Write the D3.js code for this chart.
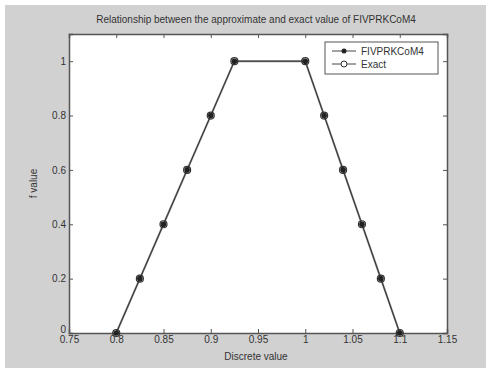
<!DOCTYPE html>
<html><head><meta charset="utf-8">
<script src="https://cdn.jsdelivr.net/npm/d3@7"></script>
<style>
html,body{margin:0;padding:0;background:#fff;}
svg{display:block;}
text{font-family:"Liberation Sans",Arial,sans-serif;fill:#333;}
</style></head>
<body>
<script>
const xValues = [0.8, 0.825, 0.85, 0.875, 0.9, 0.925, 1.0, 1.02, 1.04, 1.06, 1.08, 1.1];
const approxValues = [0, 0.2, 0.4, 0.6, 0.8, 1, 1, 0.8, 0.6, 0.4, 0.2, 0];
const exactValues = [0, 0.2, 0.4, 0.6, 0.8, 1, 1, 0.8, 0.6, 0.4, 0.2, 0];
const xTicks = [0.75, 0.8, 0.85, 0.9, 0.95, 1, 1.05, 1.1, 1.15];
const yTicks = [0, 0.2, 0.4, 0.6, 0.8, 1];
const seriesNames = ["FIVPRKCoM4", "Exact"];
const titleText = "Relationship between the approximate and exact value of FIVPRKCoM4";
const xLabel = "Discrete value";
const yLabel = "f value";

const W = 486, H = 368;
const svg = d3.select("body").append("svg").attr("width", W).attr("height", H);
svg.append("rect").attr("x", 5).attr("y", 5).attr("width", W - 5).attr("height", H - 5).attr("fill", "#d1d1d1");

const L = 69, R = 447, T = 34, B = 333;
const x = d3.scaleLinear().domain([0.75, 1.15]).range([L, R]);
const y = d3.scaleLinear().domain([0, 1.1]).range([B, T]);

svg.append("rect").attr("x", L).attr("y", T).attr("width", R - L).attr("height", B - T).attr("fill", "#fff");

const fmt = d => String(+d.toFixed(2));
const gx = svg.append("g").attr("transform", `translate(0,${B})`)
  .call(d3.axisBottom(x).tickValues(xTicks).tickFormat(fmt).tickSize(-4).tickPadding(3));
const gx2 = svg.append("g").attr("transform", `translate(0,${T})`)
  .call(d3.axisTop(x).tickValues(xTicks).tickFormat("").tickSize(-4));
const gy = svg.append("g").attr("transform", `translate(${L},0)`)
  .call(d3.axisLeft(y).tickValues(yTicks).tickFormat(fmt).tickSize(-4).tickPadding(3));
const gy2 = svg.append("g").attr("transform", `translate(${R},0)`)
  .call(d3.axisRight(y).tickValues(yTicks).tickFormat("").tickSize(-4));
[gx, gx2, gy, gy2].forEach(g => {
  g.select(".domain").attr("stroke", "#555").attr("stroke-width", 1.5);
  g.selectAll(".tick line").attr("stroke", "#555");
  g.selectAll(".tick text").attr("font-size", 10).attr("fill", "#444");
});
gy.selectAll(".tick text").filter(d => d === 0).attr("dy", "-0.05em");

const pts = xValues.map((v, i) => [v, approxValues[i]]);
const ptsE = xValues.map((v, i) => [v, exactValues[i]]);
const line = d3.line().x(d => x(d[0])).y(d => y(d[1]));
svg.append("path").datum(ptsE).attr("d", line).attr("fill", "none").attr("stroke", "#888").attr("stroke-width", 2);
svg.append("path").datum(pts).attr("d", line).attr("fill", "none").attr("stroke", "#333").attr("stroke-width", 1);
svg.selectAll("circle.e").data(ptsE).join("circle").attr("class", "e")
  .attr("cx", d => x(d[0])).attr("cy", d => y(d[1])).attr("r", 3.5)
  .attr("fill", "none").attr("stroke", "#333").attr("stroke-width", 1.2);
svg.selectAll("circle.a").data(pts).join("circle").attr("class", "a")
  .attr("cx", d => x(d[0])).attr("cy", d => y(d[1])).attr("r", 2.8).attr("fill", "#222");

// legend
const lg = svg.append("g");
lg.append("rect").attr("x", 325).attr("y", 42).attr("width", 113).attr("height", 32)
  .attr("fill", "#fff").attr("stroke", "#555").attr("stroke-width", 1);
[0, 1].forEach(i => {
  const yy = 51 + i * 13;
  lg.append("line").attr("x1", 332).attr("x2", 356).attr("y1", yy).attr("y2", yy).attr("stroke", "#444");
  if (i === 0) lg.append("circle").attr("cx", 344).attr("cy", yy).attr("r", 2.5).attr("fill", "#222");
  else lg.append("circle").attr("cx", 344).attr("cy", yy).attr("r", 3).attr("fill", "#fff").attr("stroke", "#333");
  lg.append("text").attr("x", 361).attr("y", yy + 3.5).attr("font-size", 10).attr("fill", "#444").text(seriesNames[i]);
});

svg.append("text").attr("x", 256).attr("y", 23).attr("text-anchor", "middle").attr("font-size", 10).attr("fill", "#444").text(titleText);
svg.append("text").attr("x", 256).attr("y", 360).attr("text-anchor", "middle").attr("font-size", 10).attr("fill", "#444").text(xLabel);
svg.append("text").attr("transform", `translate(37,${(T + B) / 2}) rotate(-90)`).attr("text-anchor", "middle").attr("font-size", 10).attr("fill", "#444").text(yLabel);
</script>
</body></html>
